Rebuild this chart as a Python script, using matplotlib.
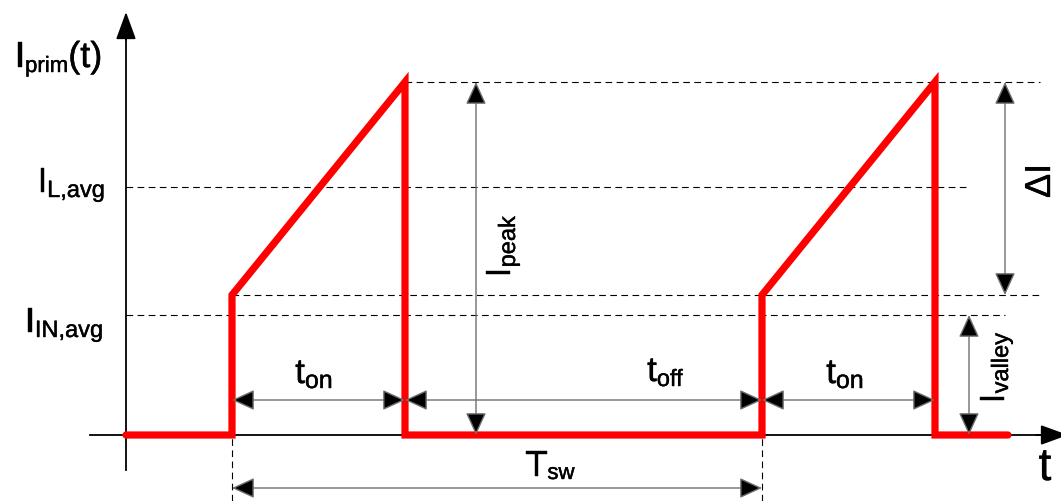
import matplotlib
matplotlib.use('Agg')
import matplotlib.pyplot as plt
import matplotlib.patheffects as pe

plt.rcParams['font.family'] = ['Liberation Sans', 'DejaVu Sans']

# forma de onda de la corriente primaria (tiempo, corriente) en unidades del dibujo
t_wave = [0, 106, 106, 279, 279, 636, 636, 809, 809, 882]
i_wave = [0, 0, 140, 353, 0, 0, 140, 353, 0, 0]

# niveles de corriente
I_PEAK = 353
I_VALLEY = 140
I_L_AVG = 248
I_IN_AVG = 120

# instantes de conmutacion
t_sw_on = [106, 636]
t_sw_off = [279, 809]

fig = plt.figure(figsize=(10.61, 5.01), dpi=100)
ax = fig.add_axes([0, 0, 1, 1])
ax.set_xlim(-126, 935)
ax.set_ylim(-66, 435)
ax.axis('off')
renderer = fig.canvas.get_renderer()

# ejes con flechas
head_eje = dict(arrowstyle='-|>,head_length=0.85,head_width=0.31', color='black',
                lw=1.3, mutation_scale=20, shrinkA=0, shrinkB=0)
ax.plot([-36, 915], [0, 0], color='black', lw=1.3, zorder=2)
ax.annotate('', xy=(942, 0), xytext=(910, 0), arrowprops=head_eje, annotation_clip=False)
ax.plot([0, 0], [-35, 405], color='black', lw=1.3, zorder=2)
ax.annotate('', xy=(0, 423), xytext=(0, 395), arrowprops=head_eje)

dash = dict(color='black', lw=0.8, ls=(0, (6, 4)), zorder=1)
ax.plot([t_sw_off[0], 914], [I_PEAK, I_PEAK], **dash)
ax.plot([0, 844], [I_L_AVG, I_L_AVG], **dash)
ax.plot([t_sw_on[0], 914], [I_VALLEY, I_VALLEY], **dash)
ax.plot([0, 879], [I_IN_AVG, I_IN_AVG], **dash)
for t in t_sw_on:
    ax.plot([t, t], [-66, 0], **dash)

# forma de onda
ax.plot(t_wave, i_wave, color='#ff0000', lw=5.2, solid_joinstyle='miter',
        solid_capstyle='round', zorder=3)

def cota(p0, p1):
    ax.annotate('', xy=p1, xytext=p0,
                arrowprops=dict(arrowstyle='<|-|>,head_length=0.7,head_width=0.32',
                                fc='black', ec='#6e6e6e', lw=1.0,
                                mutation_scale=20, shrinkA=0, shrinkB=0), zorder=4)

y_t = 35
cota((t_sw_on[0], y_t), (t_sw_off[0], y_t))
cota((t_sw_off[0], y_t), (t_sw_on[1], y_t))
cota((t_sw_on[1], y_t), (t_sw_off[1], y_t))
cota((t_sw_on[0], -53), (t_sw_on[1], -53))
cota((350, 0), (350, I_PEAK))
cota((879, I_VALLEY), (879, I_PEAK))
cota((843, 0), (843, I_IN_AVG))

grueso = [pe.withStroke(linewidth=0.3, foreground='black')]

def etiqueta(x, y, base, sub='', tail='', fs=25, fs_sub=17, drop=5, ha='left', rot=0):
    # texto con subindice: (x, y) es la linea base; unidades de datos = pixeles
    partes = [(base, fs, 0), (sub, fs_sub, drop), (tail, fs, 0)]
    objs, anchos = [], []
    for s, f, d in partes:
        if not s:
            continue
        o = ax.text(0, 0, s, fontsize=f, ha='left', va='baseline', rotation_mode='anchor',
                    path_effects=grueso)
        objs.append((o, d))
        anchos.append(o.get_window_extent(renderer).width)
    total = sum(anchos)
    pos = {'left': 0, 'center': -total / 2, 'right': -total}[ha]
    for (o, d), w in zip(objs, anchos):
        if rot == 0:
            o.set_position((x + pos, y - d))
        else:
            o.set_position((x + d, y + pos))
            o.set_rotation(90)
        pos += w

etiqueta(15 - 126, 435 - 67, 'I', 'prim', '(t)', fs=26, fs_sub=16)
etiqueta(105 - 126, 435 - 192, 'I', 'L,avg', ha='right')
etiqueta(103 - 126, 435 - 332, 'I', 'IN,avg', ha='right')
etiqueta(314 - 126, 435 - 383, 't', 'on', fs=25, fs_sub=18, ha='center')
etiqueta(665 - 126, 435 - 381, 't', 'off', fs=25, fs_sub=17, ha='center')
etiqueta(845 - 126, 435 - 383, 't', 'on', fs=25, fs_sub=18, ha='center')
etiqueta(550 - 126, 435 - 476, 'T', 'sw', fs=26, fs_sub=16, drop=3, ha='center')
etiqueta(1045 - 126, 435 - 480, 't', fs=33, ha='center')
etiqueta(510 - 126, 435 - 277, 'I', 'peak', fs=25, fs_sub=17, rot=90)
etiqueta(1050 - 126, 435 - 198, '\u0394I', fs=26, rot=90)
etiqueta(1004 - 126, 435 - 403, 'I', 'valley', fs=25, fs_sub=17, drop=4, rot=90)

fig.savefig('out.png', dpi=100)
